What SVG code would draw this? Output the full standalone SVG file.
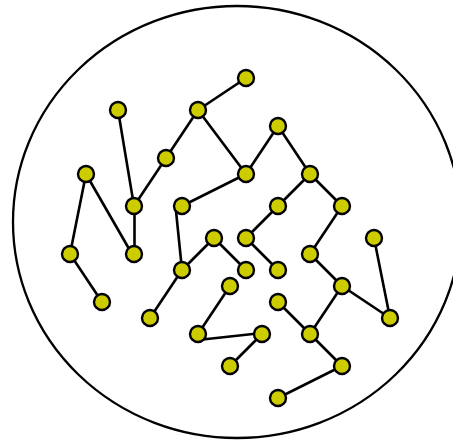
<svg xmlns="http://www.w3.org/2000/svg" width="453" height="440" viewBox="0 0 453 440">
<style>
.n{fill:#cccc00;stroke:#000;stroke-width:2.4}
.e line{stroke:#000;stroke-width:2.6}
</style>
<rect width="453" height="440" fill="#fff"/>
<ellipse id="boundary" cx="237" cy="222" rx="224" ry="216" fill="none" stroke="#000" stroke-width="2.3"/>
<g id="connectors" class="e">
<line x1="246" y1="78" x2="198" y2="110"/>
<line x1="198" y1="110" x2="166" y2="158"/>
<line x1="198" y1="110" x2="246" y2="174"/>
<line x1="246" y1="174" x2="278" y2="126"/>
<line x1="278" y1="126" x2="310" y2="174"/>
<line x1="310" y1="174" x2="278" y2="206"/>
<line x1="310" y1="174" x2="342" y2="206"/>
<line x1="166" y1="158" x2="134" y2="206"/>
<line x1="118" y1="110" x2="134" y2="206"/>
<line x1="134.5" y1="206" x2="134.5" y2="254"/>
<line x1="86" y1="174" x2="70" y2="254"/>
<line x1="86" y1="174" x2="132" y2="254"/>
<line x1="70" y1="254" x2="102" y2="302"/>
<line x1="246" y1="174" x2="182" y2="206"/>
<line x1="175.5" y1="206" x2="182" y2="270"/>
<line x1="182" y1="270" x2="214" y2="238"/>
<line x1="214" y1="238" x2="246" y2="270"/>
<line x1="182" y1="270" x2="150" y2="318"/>
<line x1="278" y1="206" x2="246" y2="238"/>
<line x1="246" y1="238" x2="278" y2="270"/>
<line x1="342" y1="206" x2="310" y2="254"/>
<line x1="310" y1="254" x2="342" y2="286"/>
<line x1="342" y1="286" x2="390" y2="318"/>
<line x1="374" y1="238" x2="390" y2="318"/>
<line x1="342" y1="286" x2="310" y2="334"/>
<line x1="278" y1="302" x2="310" y2="334"/>
<line x1="310" y1="334" x2="342" y2="366"/>
<line x1="342" y1="366" x2="278" y2="398"/>
<line x1="230" y1="286" x2="198" y2="334"/>
<line x1="198" y1="340" x2="262" y2="333"/>
<line x1="262" y1="334" x2="230" y2="366"/>
</g>
<g id="n1"><circle class="n" cx="246" cy="78" r="8"/></g>
<g id="n2"><circle class="n" cx="118" cy="110" r="8"/></g>
<g id="n3"><circle class="n" cx="198" cy="110" r="8"/></g>
<g id="n4"><circle class="n" cx="278" cy="126" r="8"/></g>
<g id="n5"><circle class="n" cx="166" cy="158" r="8"/></g>
<g id="n6"><circle class="n" cx="86" cy="174" r="8"/></g>
<g id="n7"><circle class="n" cx="246" cy="174" r="8"/></g>
<g id="n8"><circle class="n" cx="310" cy="174" r="8"/></g>
<g id="n9"><circle class="n" cx="134" cy="206" r="8"/></g>
<g id="n10"><circle class="n" cx="182" cy="206" r="8"/></g>
<g id="n11"><circle class="n" cx="278" cy="206" r="8"/></g>
<g id="n12"><circle class="n" cx="342" cy="206" r="8"/></g>
<g id="n13"><circle class="n" cx="70" cy="254" r="8"/></g>
<g id="n14"><circle class="n" cx="134" cy="254" r="8"/></g>
<g id="n15"><circle class="n" cx="214" cy="238" r="8"/></g>
<g id="n16"><circle class="n" cx="246" cy="238" r="8"/></g>
<g id="n17"><circle class="n" cx="374" cy="238" r="8"/></g>
<g id="n18"><circle class="n" cx="182" cy="270" r="8"/></g>
<g id="n19"><circle class="n" cx="246" cy="270" r="8"/></g>
<g id="n20"><circle class="n" cx="278" cy="270" r="8"/></g>
<g id="n21"><circle class="n" cx="310" cy="254" r="8"/></g>
<g id="n22"><circle class="n" cx="230" cy="286" r="8"/></g>
<g id="n23"><circle class="n" cx="342" cy="286" r="8"/></g>
<g id="n24"><circle class="n" cx="102" cy="302" r="8"/></g>
<g id="n25"><circle class="n" cx="150" cy="318" r="8"/></g>
<g id="n26"><circle class="n" cx="278" cy="302" r="8"/></g>
<g id="n27"><circle class="n" cx="390" cy="318" r="8"/></g>
<g id="n28"><circle class="n" cx="198" cy="334" r="8"/></g>
<g id="n29"><circle class="n" cx="262" cy="334" r="8"/></g>
<g id="n30"><circle class="n" cx="310" cy="334" r="8"/></g>
<g id="n31"><circle class="n" cx="230" cy="366" r="8"/></g>
<g id="n32"><circle class="n" cx="342" cy="366" r="8"/></g>
<g id="n33"><circle class="n" cx="278" cy="398" r="8"/></g>
</svg>
